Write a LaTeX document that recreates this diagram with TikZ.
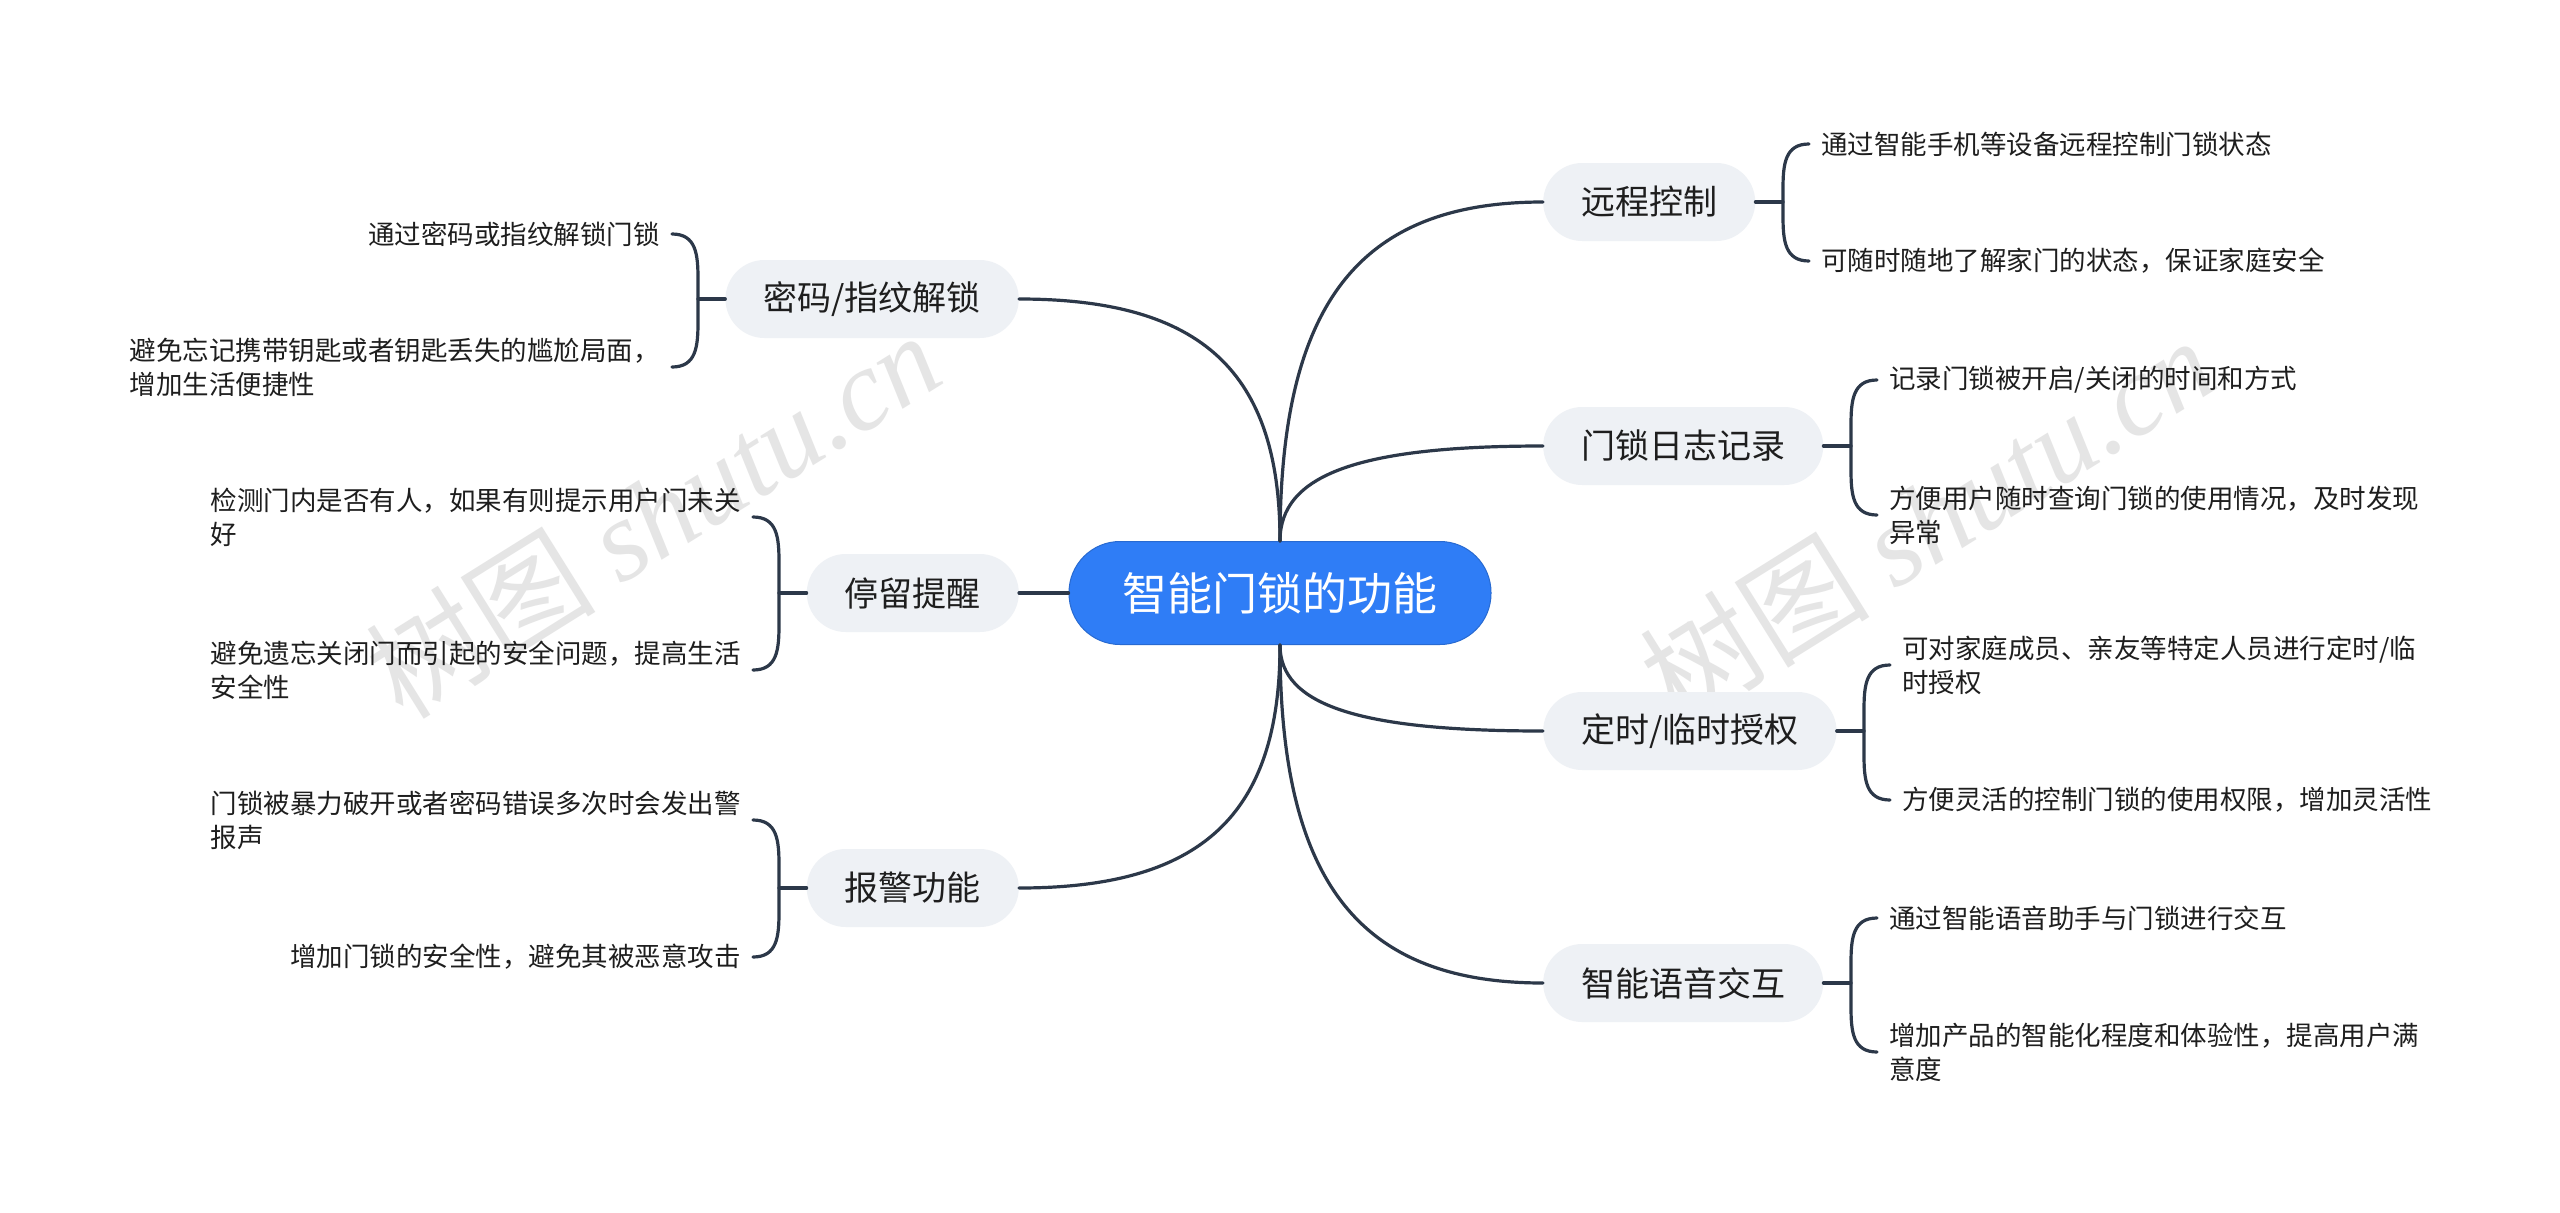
\documentclass[tikz,border=0pt]{standalone}
\usepackage{fontspec}
\setmainfont{Noto Sans CJK SC}
\newfontfamily\wmfont{Liberation Serif}
\usetikzlibrary{calc}
\definecolor{linec}{HTML}{2C3849}
\definecolor{rootblue}{HTML}{2F7DF6}
\definecolor{branchc}{HTML}{EEF1F5}
\definecolor{textc}{HTML}{1E1E1E}
\newcommand\bcurve[2]{\draw[conn] (#1) .. controls ($(#1)!0.7!(#1|-#2)$) and ($(#2)!0.7!(#2-|#1)$) .. (#2);}
% #1 top leaf anchor, #2 bottom leaf anchor, #3 junction coordinate, #4 sign (+1 right side, -1 left side)
\newcommand\brk[4]{\draw[conn] (#1) .. controls ($(#1 -| #3)+(#4*2,0)$) and ($(#1 -| #3)+(0,20)$) .. ($(#1 -| #3)+(0,45)$) -- ($(#2 -| #3)+(0,-45)$) .. controls ($(#2 -| #3)+(0,-20)$) and ($(#2 -| #3)+(#4*2,0)$) .. (#2);}
\begin{document}
\begin{tikzpicture}[x=1pt,y=-1pt,
  conn/.style={draw=linec, line width=3.2pt, line cap=round},
  rootnode/.style={fill=rootblue, draw=rootblue!85!black, line width=1pt, rounded corners=51pt, minimum width=422pt, minimum height=103pt, text=white, font=\fontsize{45}{54}\selectfont},
  branch/.style={fill=branchc, rounded corners=39pt, minimum height=78pt, inner xsep=38pt, font=\fontsize{34}{40}\selectfont, text=textc},
  leaf/.style={inner xsep=12pt, inner ysep=2pt, align=left, font=\fontsize{26.5}{34}\selectfont, text=textc},
  wm/.style={rotate=32, text=gray!45, opacity=.45, font=\fontsize{115}{120}\selectfont}
]
\useasboundingbox (0,0) rectangle (2560,1213);
\fill[white] (0,0) rectangle (2560,1213);

% watermarks
\node[wm] (wm1) at (653,514) {树图 {\wmfont\itshape shutu.cn}};
\node[wm] (wm2) at (1927,519) {树图 {\wmfont\itshape shutu.cn}};

% root
\node[rootnode] (c) at (1280,593) {智能门锁的功能};

% right branches
\node[branch, anchor=west] (r1) at (1543,202) {远程控制};
\node[branch, anchor=west] (r2) at (1543,446) {门锁日志记录};
\node[branch, anchor=west] (r3) at (1543,731) {定时/临时授权};
\node[branch, anchor=west] (r4) at (1543,983) {智能语音交互};

% left branches
\node[branch, anchor=east] (l1) at (1019,299) {密码/指纹解锁};
\node[branch, anchor=east] (l2) at (1019,593) {停留提醒};
\node[branch, anchor=east] (l3) at (1019,888) {报警功能};

% connectors root -> branches
\bcurve{c.north}{r1.west}
\bcurve{c.north}{r2.west}
\bcurve{c.south}{r3.west}
\bcurve{c.south}{r4.west}
\bcurve{c.north}{l1.east}
\bcurve{c.south}{l3.east}
\draw[conn] (c.west) -- (l2.east);

% right leaves
\node[leaf, anchor=west] (r1a) at (1809,144) {通过智能手机等设备远程控制门锁状态};
\node[leaf, anchor=west] (r1b) at (1809,261) {可随时随地了解家门的状态，保证家庭安全};
\node[leaf, anchor=west] (r2a) at (1877,380) {记录门锁被开启/关闭的时间和方式};
\node[leaf, anchor=west] (r2b) at (1877,515) {方便用户随时查询门锁的使用情况，及时发现\\异常};
\node[leaf, anchor=west] (r3a) at (1890,665) {可对家庭成员、亲友等特定人员进行定时/临\\时授权};
\node[leaf, anchor=west] (r3b) at (1890,800) {方便灵活的控制门锁的使用权限，增加灵活性};
\node[leaf, anchor=west] (r4a) at (1877,918) {通过智能语音助手与门锁进行交互};
\node[leaf, anchor=west] (r4b) at (1877,1052) {增加产品的智能化程度和体验性，提高用户满\\意度};

% left leaves
\node[leaf, anchor=east] (l1a) at (672,234) {通过密码或指纹解锁门锁};
\node[leaf, anchor=east] (l1b) at (672,367) {避免忘记携带钥匙或者钥匙丢失的尴尬局面，\\增加生活便捷性};
\node[leaf, anchor=east] (l2a) at (753,517) {检测门内是否有人，如果有则提示用户门未关\\好};
\node[leaf, anchor=east] (l2b) at (753,670) {避免遗忘关闭门而引起的安全问题，提高生活\\安全性};
\node[leaf, anchor=east] (l3a) at (753,820) {门锁被暴力破开或者密码错误多次时会发出警\\报声};
\node[leaf, anchor=east] (l3b) at (753,957) {增加门锁的安全性，避免其被恶意攻击};

% bracket junctions
\coordinate (kr1) at (1783,202);
\coordinate (kr2) at (1851,446);
\coordinate (kr3) at (1864,731);
\coordinate (kr4) at (1851,983);
\coordinate (kl1) at (698,299);
\coordinate (kl2) at (779,593);
\coordinate (kl3) at (779,888);

\draw[conn] (r1.east) -- (kr1);
\draw[conn] (r2.east) -- (kr2);
\draw[conn] (r3.east) -- (kr3);
\draw[conn] (r4.east) -- (kr4);
\draw[conn] (l1.west) -- (kl1);
\draw[conn] (l2.west) -- (kl2);
\draw[conn] (l3.west) -- (kl3);

\brk{r1a.west}{r1b.west}{kr1}{1}
\brk{r2a.west}{r2b.west}{kr2}{1}
\brk{r3a.west}{r3b.west}{kr3}{1}
\brk{r4a.west}{r4b.west}{kr4}{1}
\brk{l1a.east}{l1b.east}{kl1}{-1}
\brk{l2a.east}{l2b.east}{kl2}{-1}
\brk{l3a.east}{l3b.east}{kl3}{-1}
\end{tikzpicture}
\end{document}
